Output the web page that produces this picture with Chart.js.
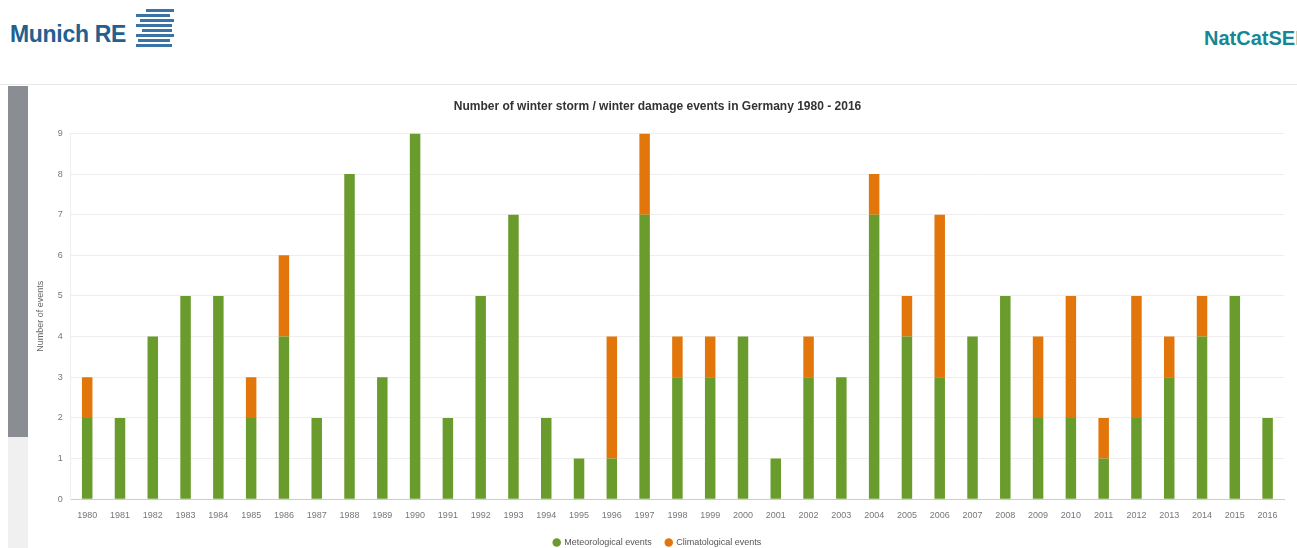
<!DOCTYPE html>
<html>
<head>
<meta charset="utf-8">
<script src="https://cdn.jsdelivr.net/npm/chart.js@4"></script>
<style>
  body { margin: 0; width: 1297px; height: 548px; background: #fff; overflow: hidden; font-family: "Liberation Sans", Arial, sans-serif; position: relative; }
  .brand { position: absolute; left: 10px; top: 21px; font-size: 23px; font-weight: bold; color: #22608f; letter-spacing: -0.3px; }
  .logo { position: absolute; left: 136px; top: 9px; width: 40px; height: 40px; }
  .logo div { height: 3px; background: #3b73a6; margin-bottom: 2px; }
  .service { position: absolute; left: 1204px; top: 27px; font-size: 20px; font-weight: bold; color: #168795; white-space: nowrap; }
  .topline { position: absolute; left: 0; top: 84px; width: 1297px; height: 1px; background: #e8e8e8; }
  .side { position: absolute; left: 8px; top: 86px; width: 20px; height: 351px; background: #8a8d91; }
  .side2 { position: absolute; left: 8px; top: 437px; width: 20px; height: 111px; background: #f0f0f0; }
  .wrap { position: absolute; left: 30px; top: 93px; width: 1262px; height: 464px; }
</style>
</head>
<body>
<div class="brand">Munich RE</div>
<div class="logo"><div style="margin-left:10px;width:28px"></div><div style="width:34px"></div><div style="margin-left:4px;width:34px"></div><div style="width:36px"></div><div style="margin-left:6px;width:30px"></div><div style="width:38px"></div><div style="margin-left:2px;width:32px"></div><div style="width:36px"></div></div>
<div class="service">NatCatSERVICE</div>
<div class="topline"></div>
<div class="side"></div>
<div class="side2"></div>
<div class="wrap"><canvas id="chart"></canvas></div>
<script>
const years = ["1980","1981","1982","1983","1984","1985","1986","1987","1988","1989","1990","1991","1992","1993","1994","1995","1996","1997","1998","1999","2000","2001","2002","2003","2004","2005","2006","2007","2008","2009","2010","2011","2012","2013","2014","2015","2016"];
const meteorological = [2,2,4,5,5,2,4,2,8,3,9,2,5,7,2,1,1,7,3,3,4,1,3,3,7,4,3,4,5,2,2,1,2,3,4,5,2];
const climatological = [1,0,0,0,0,1,2,0,0,0,0,0,0,0,0,0,3,2,1,1,0,0,1,0,1,1,4,0,0,2,3,1,3,1,1,0,0];
const yTicks = [0,1,2,3,4,5,6,7,8,9];

new Chart(document.getElementById("chart"), {
  type: "bar",
  data: {
    labels: years,
    datasets: [
      { label: "Meteorological events", data: meteorological, backgroundColor: "#6a9b2d" },
      { label: "Climatological events", data: climatological, backgroundColor: "#e2760b" }
    ]
  },
  options: {
    responsive: true,
    maintainAspectRatio: false,
    animation: false,
    datasets: { bar: { barPercentage: 0.32, categoryPercentage: 1 } },
    layout: { padding: { left: 1, right: 8, top: 0, bottom: 0 } },
    plugins: {
      title: { display: true, text: "Number of winter storm / winter damage events in Germany 1980 - 2016", color: "#333", font: { size: 12, weight: "bold" }, padding: { top: 6, bottom: 20 } },
      legend: { position: "bottom", labels: { usePointStyle: true, pointStyle: "circle", boxWidth: 6, boxHeight: 6, color: "#555", font: { size: 9 }, padding: 14 } },
      tooltip: { enabled: false }
    },
    scales: {
      x: {
        stacked: true,
        grid: { display: false },
        border: { color: "#ccc" },
        ticks: { color: "#777", font: { size: 9 }, maxRotation: 0, autoSkip: false }
      },
      y: {
        stacked: true,
        min: 0, max: 9,
        afterBuildTicks: axis => { axis.ticks = yTicks.map(v => ({ value: v })); },
        grid: { color: "#eee", drawTicks: false },
        border: { display: true, color: "#eee" },
        ticks: { color: "#777", font: { size: 9 }, padding: 8 },
        title: { display: true, text: "Number of events", color: "#666", font: { size: 9 } }
      }
    }
  }
});
</script>
</body>
</html>
